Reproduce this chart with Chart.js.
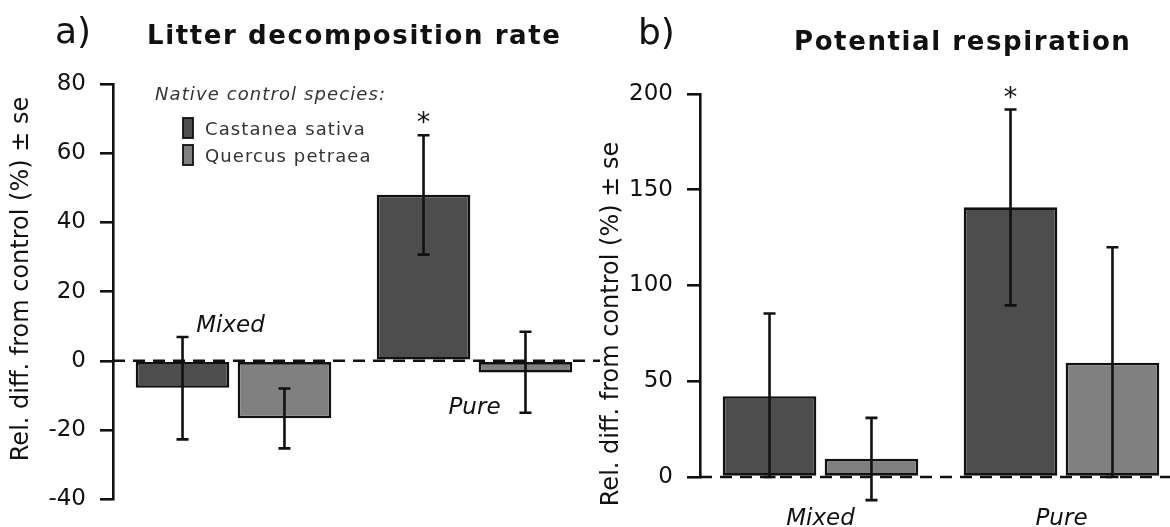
<!DOCTYPE html>
<html>
<head>
<meta charset="utf-8">
<script src="https://cdn.jsdelivr.net/npm/chart.js@4.4.1/dist/chart.umd.min.js"></script>
<style>
html, body { margin: 0; padding: 0; background: #fff; overflow: hidden; width: 1170px; height: 527px; }
canvas { position: absolute; top: 0; }
#chartA { left: 0; }
#chartB { left: 590px; }
</style>
</head>
<body>
<canvas id="chartA" width="600" height="527"></canvas>
<canvas id="chartB" width="600" height="527"></canvas>
<script>
var groups = ["Mixed", "Pure"];
var speciesNames = ["Castanea sativa", "Quercus petraea"];
var barColors = ["#4d4d4d", "#808080"];

// a) litter decomposition rate
var decompCastanea = [-7.8, 48.0];
var decompCastaneaLow = [-22.7, 30.7];
var decompCastaneaHigh = [6.9, 65.2];
var decompQuercus = [-16.6, -3.4];
var decompQuercusLow = [-25.3, -15.0];
var decompQuercusHigh = [-8.0, 8.4];
var decompTicks = [-40, -20, 0, 20, 40, 60, 80];

// b) potential respiration
var respCastanea = [42.2, 140.8];
var respCastaneaLow = [0, 89.6];
var respCastaneaHigh = [85.4, 191.9];
var respQuercus = [9.5, 59.7];
var respQuercusLow = [-12.1, 0];
var respQuercusHigh = [30.9, 120.0];
var respTicks = [0, 50, 100, 150, 200];

var FONT = "DejaVu Sans";
var INK = "#111";
var LW = 2.6;

// zero line, error bars, stars and all the loose text
var extras = {
    id: "extras",
    beforeDatasetsDraw: function (chart) {
        var ctx = chart.ctx, a = chart.chartArea;
        var y0 = chart.scales.y.getPixelForValue(0);
        ctx.save();
        ctx.setLineDash([12, 8]);
        ctx.lineWidth = LW;
        ctx.strokeStyle = INK;
        ctx.beginPath();
        ctx.moveTo(a.left, y0);
        ctx.lineTo(a.right + 10, y0);
        ctx.stroke();
        ctx.restore();
    },
    afterDatasetsDraw: function (chart, args, opts) {
        var ctx = chart.ctx, ys = chart.scales.y;
        ctx.save();
        ctx.strokeStyle = INK;
        ctx.lineWidth = LW;
        chart.data.datasets.forEach(function (ds, di) {
            var meta = chart.getDatasetMeta(di);
            meta.data.forEach(function (bar, i) {
                var lo = ys.getPixelForValue(ds.errLow[i]);
                var hi = ys.getPixelForValue(ds.errHigh[i]);
                ctx.beginPath();
                ctx.moveTo(bar.x, lo); ctx.lineTo(bar.x, hi);
                ctx.moveTo(bar.x - 6, lo); ctx.lineTo(bar.x + 6, lo);
                ctx.moveTo(bar.x - 6, hi); ctx.lineTo(bar.x + 6, hi);
                ctx.stroke();
            });
        });
        ctx.fillStyle = INK;
        ctx.font = "27px " + FONT;
        ctx.textAlign = "center";
        (opts.stars || []).forEach(function (s) {
            var bar = chart.getDatasetMeta(s.dataset).data[s.index];
            var top = ys.getPixelForValue(chart.data.datasets[s.dataset].errHigh[s.index]);
            ctx.fillText("*", bar.x, top - 4);
        });
        ctx.restore();
    },
    afterDraw: function (chart, args, opts) {
        var ctx = chart.ctx, xs = chart.scales.x;
        ctx.save();
        ctx.fillStyle = INK;
        ctx.textBaseline = "alphabetic";

        ctx.textAlign = "left";
        ctx.font = "36px " + FONT;
        ctx.fillText(opts.tag.text, opts.tag.x, opts.tag.y);
        ctx.font = "bold 26px " + FONT;
        ctx.letterSpacing = "1.6px";
        ctx.fillText(opts.title.text, opts.title.x, opts.title.y);
        ctx.letterSpacing = "0px";

        ctx.save();
        ctx.translate(opts.yTitle.x, opts.yTitle.y);
        ctx.rotate(-Math.PI / 2);
        ctx.textAlign = "center";
        ctx.textBaseline = "middle";
        ctx.font = "24px " + FONT;
        ctx.fillText("Rel. diff. from control (%) \u00b1 se", 0, 0);
        ctx.restore();

        ctx.textAlign = "center";
        ctx.font = "italic 23px " + FONT;
        opts.groupLabels.forEach(function (g) {
            ctx.fillText(groups[g.index], xs.getPixelForValue(g.index) + (g.dx || 0), g.y);
        });

        if (opts.legend) {
            ctx.textAlign = "left";
            ctx.fillStyle = "#333";
            ctx.letterSpacing = "1.1px";
            ctx.font = "italic 18px " + FONT;
            ctx.fillText("Native control species:", 155, 100);
            ctx.font = "18px " + FONT;
            speciesNames.forEach(function (name, i) {
                var top = 118 + i * 27;
                ctx.fillStyle = barColors[i];
                ctx.fillRect(183, top, 10, 20);
                ctx.strokeStyle = INK;
                ctx.lineWidth = 1.8;
                ctx.strokeRect(183, top, 10, 20);
                ctx.fillStyle = "#333";
                ctx.fillText(name, 205, top + 17);
            });
        }
        ctx.restore();
    }
};

function makeChart(id, series, yMin, yMax, ticks, axisWidth, pad, annot) {
    return new Chart(document.getElementById(id), {
        type: "bar",
        data: {
            labels: groups,
            datasets: series.map(function (s, i) {
                return {
                    label: speciesNames[i],
                    data: s.values,
                    errLow: s.low,
                    errHigh: s.high,
                    backgroundColor: barColors[i],
                    borderColor: INK,
                    borderWidth: LW,
                    borderSkipped: false,
                    categoryPercentage: 0.846,
                    barPercentage: 0.918,
                    clip: false
                };
            })
        },
        options: {
            responsive: false,
            animation: false,
            layout: { padding: pad },
            plugins: {
                legend: { display: false },
                title: { display: false },
                tooltip: { enabled: false },
                extras: annot
            },
            scales: {
                x: { type: "category", display: false, offset: true },
                y: {
                    min: yMin,
                    max: yMax,
                    afterFit: function (s) { s.width = axisWidth; },
                    afterBuildTicks: function (s) {
                        s.ticks = ticks.map(function (v) { return { value: v }; });
                    },
                    grid: { display: true, drawOnChartArea: false, drawTicks: true, tickLength: 13, color: INK, lineWidth: LW },
                    border: { display: true, color: INK, width: LW },
                    ticks: { font: { family: FONT, size: 23 }, color: INK, padding: 14 }
                }
            }
        },
        plugins: [extras]
    });
}

makeChart("chartA", [
    { values: decompCastanea, low: decompCastaneaLow, high: decompCastaneaHigh },
    { values: decompQuercus, low: decompQuercusLow, high: decompQuercusHigh }
], -40, 80, decompTicks, 113, { top: 84, bottom: 22, left: 0, right: 5 }, {
    tag: { text: "a)", x: 55, y: 43 },
    title: { text: "Litter decomposition rate", x: 147, y: 44 },
    yTitle: { x: 22, y: 279 },
    groupLabels: [{ index: 0, y: 332, dx: -3 }, { index: 1, y: 414 }],
    stars: [{ dataset: 0, index: 1 }],
    legend: true
});

makeChart("chartB", [
    { values: respCastanea, low: respCastaneaLow, high: respCastaneaHigh },
    { values: respQuercus, low: respQuercusLow, high: respQuercusHigh }
], 0, 200, respTicks, 110, { top: 94, bottom: 50, left: 0, right: 8 }, {
    tag: { text: "b)", x: 48, y: 44 },
    title: { text: "Potential respiration", x: 204, y: 50 },
    yTitle: { x: 22, y: 324 },
    groupLabels: [{ index: 0, y: 525 }, { index: 1, y: 525 }],
    stars: [{ dataset: 0, index: 1 }],
    legend: false
});
</script>
</body>
</html>
